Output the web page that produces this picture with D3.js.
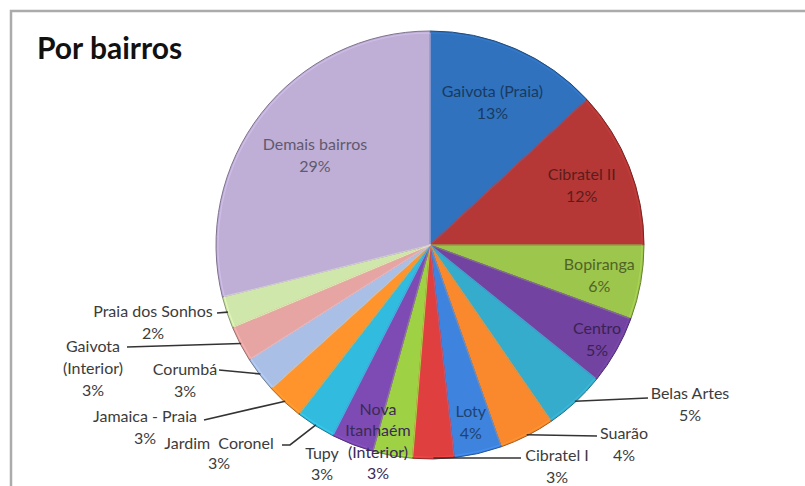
<!DOCTYPE html>
<html><head><meta charset="utf-8">
<script src="https://cdn.jsdelivr.net/npm/d3@7"></script>
<style>
html,body{margin:0;padding:0;background:#fff;}
svg{display:block;}
text{white-space:pre;}
</style></head>
<body>
<script>
// ---- data ----
const title = "Por bairros";
const categories = ["Gaivota (Praia)","Cibratel II","Bopiranga","Centro","Belas Artes","Suarão","Loty","Cibratel I","Nova Itanhaém (Interior)","Tupy","Jardim  Coronel","Jamaica - Praia","Corumbá","Gaivota (Interior)","Praia dos Sonhos","Demais bairros"];
const values = [13.1,11.9,5.6,5.2,4.6,4.2,3.6,3.1,3.0,3.2,3.0,2.8,2.7,2.7,2.4,28.9];
const colors = ["#2D6AB1","#A93432","#92B848","#6A3E96","#31A0BE","#E9802A","#3A7BD0","#D03B3B","#93C43F","#7545A8","#2EAECF","#F08A2A","#9DB2D6","#D69A98","#C2D79F","#B2A3C8"];

const W = 805, H = 486;
const cx = 430, cy = 245, R = 214;

const svg = d3.select("body").append("svg").attr("width", W).attr("height", H)
  .style("font-family", "Lato, 'Open Sans', sans-serif");

svg.append("rect").attr("x", 11).attr("y", 11).attr("width", 1000).attr("height", 1000)
  .attr("fill", "#fff").attr("stroke", "#ababab").attr("stroke-width", 2.5);

svg.append("text").attr("x", 37).attr("y", 59).text(title)
  .attr("font-size", 30).attr("font-weight", 700).attr("fill", "#111");

const total = d3.sum(values);
const data = categories.map((c, i) => ({name: c, value: values[i], color: colors[i], i}));
const pie = d3.pie().sort(null).value(d => d.value).startAngle(0).endAngle(2 * Math.PI);
const arcs = pie(data);
const arc = d3.arc().innerRadius(0).outerRadius(R);
const bevel = d3.arc().innerRadius(0).outerRadius(R - 2);

const defs = svg.append("defs");
arcs.forEach((a, i) => {
  const g = defs.append("radialGradient").attr("id", "g" + i)
    .attr("gradientUnits", "userSpaceOnUse").attr("cx", cx).attr("cy", cy).attr("r", R);
  const c = d3.color(a.data.color);
  g.append("stop").attr("offset", "0%").attr("stop-color", c.darker(0.2));
  g.append("stop").attr("offset", "88%").attr("stop-color", c);
  g.append("stop").attr("offset", "100%").attr("stop-color", c.brighter(0.2));
});

const gp = svg.append("g").attr("transform", `translate(${cx},${cy})`);
gp.selectAll("path.s").data(arcs).enter().append("path").attr("class", "s")
  .attr("d", arc).attr("fill", (d, i) => `url(#g${i})`)
  .attr("stroke", d => d3.color(d.data.color).darker(1)).attr("stroke-width", 1)
  .attr("stroke-linejoin", "round");
gp.selectAll("path.b").data(arcs).enter().append("path").attr("class", "b")
  .attr("d", bevel).attr("fill", "none")
  .attr("stroke", d => d3.color(d.data.color).brighter(0.5)).attr("stroke-opacity", 0.7)
  .attr("stroke-width", 1.2).attr("stroke-linejoin", "round");

const pct = d => Math.round(d.value / total * 100) + "%";
const mid = d => (d.startAngle + d.endAngle) / 2;
const polar = (ang, r) => [cx + r * Math.sin(ang), cy - r * Math.cos(ang)];

// ---- label layout ----
const inside = {0: 156, 1: 163, 2: 172, 3: 192, 6: 182, 15: 146};
const outside = {
  4:  {x: 690, y: 393, lines: ["Belas Artes"], path: [[648, 398]]},
  5:  {x: 624, y: 433, lines: ["Suarão"], path: [[597, 436]]},
  7:  {x: 557, y: 455, lines: ["Cibratel I"], path: [[521, 458]]},
  8:  {x: 378, y: 409, lh: 21.5, lines: ["Nova", "Itanhaém", "(Interior)"], inner: true},
  9:  {x: 322, y: 453, lh: 21, lines: ["Tupy"]},
  10: {x: 219, y: 443, lh: 20, lines: ["Jardim  Coronel"], path: [[290, 445], [282, 445]]},
  11: {x: 145, y: 416, lines: ["Jamaica - Praia"], path: [[204, 420]]},
  12: {x: 185, y: 369, lines: ["Corumbá"], path: [[219, 370]]},
  13: {x: 93, y: 346, lines: ["Gaivota", "(Interior)"], path: [[127, 347]]},
  14: {x: 153, y: 311, lines: ["Praia dos Sonhos"], path: [[217, 313]]}
};

const gl = svg.append("g");
arcs.forEach((a, i) => {
  if (outside[i] && outside[i].path) {
    const pts = [polar(mid(a), R - 1)].concat(outside[i].path);
    gl.append("path").attr("d", d3.line()(pts)).attr("fill", "none")
      .attr("stroke", "#333").attr("stroke-width", 1.6);
  }
});

const gt = svg.append("g").attr("font-size", 16).attr("text-anchor", "middle");
arcs.forEach((a, i) => {
  if (inside[i] !== undefined) {
    const [x, y] = polar(mid(a), inside[i]);
    const col = d3.color(a.data.color).darker(1.7);
    const t = gt.append("text").attr("fill", col);
    [a.data.name, pct(a.data)].forEach((s, k) => {
      t.append("tspan").attr("x", x).attr("y", y + (k - 0.5) * 22).attr("dy", "0.35em").text(s);
    });
  } else if (outside[i]) {
    const o = outside[i];
    const lh = o.lh || 22;
    const t = gt.append("text").attr("fill", o.inner ? "#3b2a55" : "#3c3c3c");
    o.lines.concat([pct(a.data)]).forEach((s, k) => {
      t.append("tspan").attr("x", o.x).attr("y", o.y + k * lh).attr("dy", "0.35em").text(s);
    });
  }
});
</script>
</body></html>
